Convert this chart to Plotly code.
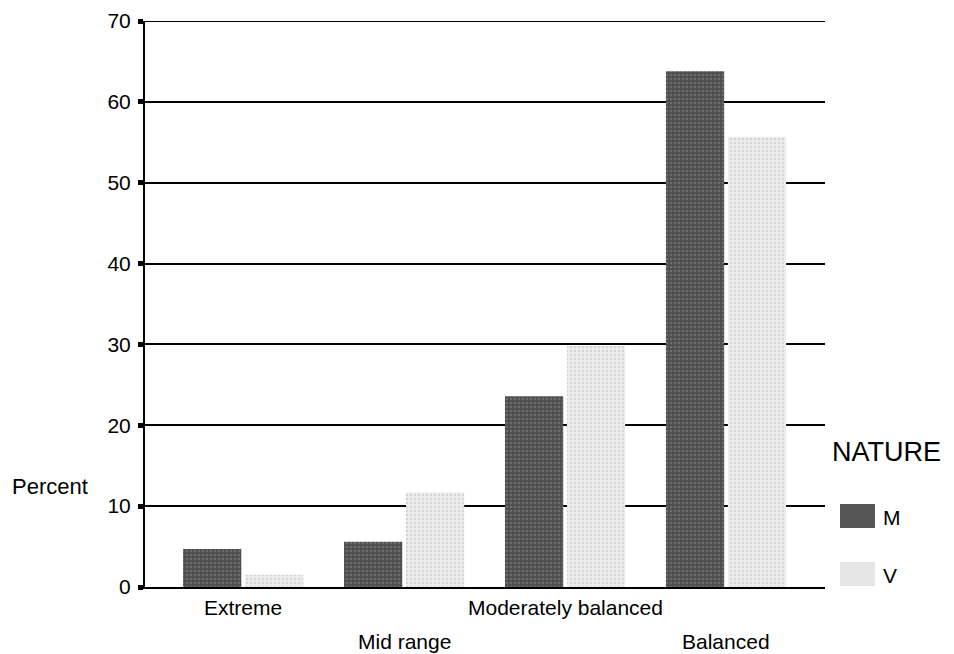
import plotly.graph_objects as go

# Data
categories = ["Extreme", "Mid range", "Moderately balanced", "Balanced"]
series_names = ["M", "V"]
m_values = [4.7, 5.6, 23.6, 63.8]
v_values = [1.5, 11.7, 29.8, 55.7]
y_ticks = [0, 10, 20, 30, 40, 50, 60, 70]

FONT = "Liberation Sans, Arial, sans-serif"
W, H = 954, 654
L, R, T, B = 145, 129, 21, 67
PW, PH = W - L - R, H - T - B

fills = {
    "M": dict(color="#565656", pattern=dict(shape=".", fgcolor="#8a8a8a", bgcolor="#4e4e4e", size=4, solidity=0.35)),
    "V": dict(color="#e6e6e6", pattern=dict(shape=".", fgcolor="#b8b8b8", bgcolor="#ededed", size=4, solidity=0.25)),
}

fig = go.Figure()
for name, vals in zip(series_names, [m_values, v_values]):
    fig.add_trace(go.Bar(
        x=categories, y=vals, name=name,
        marker=dict(color=fills[name]["color"], pattern=fills[name]["pattern"], line=dict(width=0)),
        showlegend=False,
    ))


def px(x):
    return (x - L) / PW


def py(y):
    return (H - B - y) / PH


annotations = []
# Category labels on two staggered rows
for i, cat in enumerate(categories):
    annotations.append(dict(
        x=cat, xref="x", y=0, yref="paper", yanchor="middle", xanchor="center",
        yshift=-20 if i % 2 == 0 else -54, text=cat, showarrow=False,
        font=dict(family=FONT, size=21, color="black"),
    ))

# Axis title
annotations.append(dict(x=px(50), y=py(486), xref="paper", yref="paper", text="Percent",
                        showarrow=False, xanchor="center", yanchor="middle",
                        font=dict(family=FONT, size=22, color="black")))

# Legend block
annotations.append(dict(x=px(830), y=py(452), xref="paper", yref="paper", text="NATURE",
                        showarrow=False, xanchor="left", yanchor="middle",
                        font=dict(family=FONT, size=27, color="black")))
shapes = []
for name, yc in zip(series_names, [516, 574]):
    shapes.append(dict(type="rect", xref="paper", yref="paper",
                       x0=px(840), x1=px(875), y0=py(yc + 12), y1=py(yc - 12),
                       fillcolor=fills[name]["color"], line=dict(width=0)))
    annotations.append(dict(x=px(881), y=py(yc + 1), xref="paper", yref="paper", text=name,
                            showarrow=False, xanchor="left", yanchor="middle",
                            font=dict(family=FONT, size=21, color="black")))

# Top gridline at the axis maximum
shapes.append(dict(type="line", xref="paper", yref="y", x0=0, x1=1, y0=y_ticks[-1], y1=y_ticks[-1],
                   line=dict(color="black", width=2), layer="below"))

fig.update_layout(
    width=W, height=H,
    margin=dict(l=L, r=R, t=T, b=B, autoexpand=False),
    paper_bgcolor="white", plot_bgcolor="white",
    barmode="group", bargap=0.23, bargroupgap=0.06,
    annotations=annotations, shapes=shapes,
    font=dict(family=FONT, color="black"),
)
fig.update_xaxes(
    range=[-0.61, 3.615], showticklabels=False, showgrid=False,
    showline=True, linecolor="black", linewidth=2,
    ticks="", zeroline=False, automargin=False,
)
fig.update_yaxes(
    range=[0, 70], tickvals=y_ticks, ticks="outside", ticklen=5, tickwidth=5, tickcolor="black",
    showline=True, linecolor="black", linewidth=2,
    showgrid=True, gridcolor="black", gridwidth=2, zeroline=False, automargin=False,
    tickfont=dict(family=FONT, size=21, color="black"), ticklabelstandoff=3,
)

fig.write_html("out.html")
